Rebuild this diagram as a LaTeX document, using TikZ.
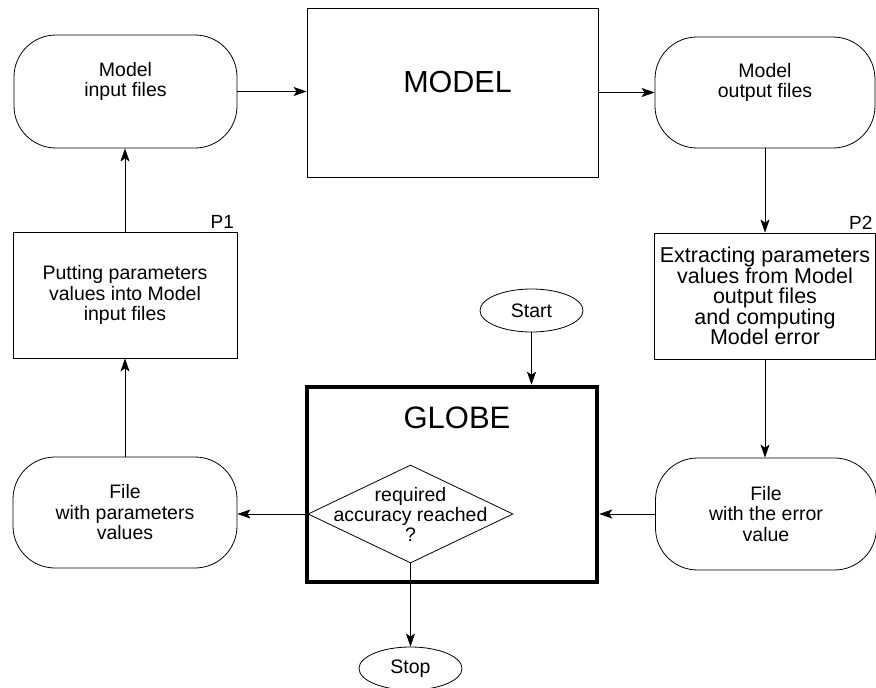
\documentclass[tikz,border=0pt]{standalone}
\usepackage{fontspec}
\setmainfont{Liberation Sans}
\usetikzlibrary{shapes.geometric,arrows.meta}

\tikzset{
	filebox/.style={draw,line width=0.8pt,rounded corners=42pt,inner sep=0pt,align=center},
	procbox/.style={draw,line width=0.8pt,inner sep=0pt,align=center},
	terminal/.style={draw,line width=0.8pt,ellipse,minimum width=103pt,minimum height=43pt,inner sep=0pt},
	decision/.style={draw,line width=0.8pt,diamond,minimum width=205pt,minimum height=98pt,inner sep=0pt},
	arr/.style={line width=0.8pt,-{Stealth[length=13pt,width=9pt,inset=3pt]}}
}

\begin{document}
\begin{tikzpicture}[x=1pt,y=-1pt,font=\fontsize{19.5}{20.5}\selectfont]
	\useasboundingbox (0,0) rectangle (876,688);

	\node[filebox,minimum width=223pt,minimum height=113pt,label={[align=center,yshift=10pt,font=\fontsize{19.5}{20.5}\selectfont]center:Model\\input files}] (inp) at (125.5,91.5) {};
	\node[procbox,minimum width=291pt,minimum height=169pt,label={[xshift=5pt,yshift=11pt,font=\fontsize{30.5}{32}\selectfont]center:MODEL}] (model) at (452.5,92.5) {};
	\node[filebox,minimum width=220pt,minimum height=111pt,label={[align=center,yshift=10pt,font=\fontsize{19.5}{20.5}\selectfont]center:Model\\output files}] (out) at (765,92.5) {};

	\node[procbox,minimum width=224pt,minimum height=126pt,label={[anchor=south east,font=\fontsize{19}{20}\selectfont]north east:P1}] (p1) at (125,295) {Putting parameters\\values into Model\\input files};
	\node[procbox,minimum width=221pt,minimum height=126pt,font=\fontsize{21.5}{20.5}\selectfont,label={[anchor=south east,font=\fontsize{19}{20}\selectfont]north east:P2}] (p2) at (765,296) {Extracting parameters\\values from Model\\output files\\and computing\\Model error};

	\node[terminal] (start) at (531.5,310.5) {Start};
	\node[draw,line width=4.5pt,minimum width=290pt,minimum height=195pt,label={[xshift=5pt,yshift=66.5pt,font=\fontsize{31}{32}\selectfont]center:GLOBE}] (globe) at (452,484.5) {};
	\node[decision,label={[align=center,font=\fontsize{19.5}{20}\selectfont]center:required\\accuracy reached\\?}] (ask) at (410.5,514) {};

	\node[filebox,minimum width=224pt,minimum height=111pt] (par) at (125,512.5) {File\\with parameters\\values};
	\node[filebox,minimum width=221pt,minimum height=112pt] (err) at (766,514) {File\\with the error\\value};
	\node[terminal] (stop) at (410.5,668.5) {Stop};

	\draw[arr] (inp.east) -- (inp.east -| model.west);
	\draw[arr] (model.east) -- (model.east -| out.west);
	\draw[arr] (out.south) -- (out.south |- p2.north);
	\draw[arr] (p2.south) -- (p2.south |- err.north);
	\draw[arr] (err.west) -- (err.west -| globe.east);
	\draw[arr] (ask.west) -- (ask.west -| par.east);
	\draw[arr] (par.north) -- (par.north |- p1.south);
	\draw[arr] (p1.north) -- (p1.north |- inp.south);
	\draw[arr] (start.south) -- (start.south |- globe.north);
	\draw[arr] (ask.south) -- (stop.north);
\end{tikzpicture}
\end{document}
